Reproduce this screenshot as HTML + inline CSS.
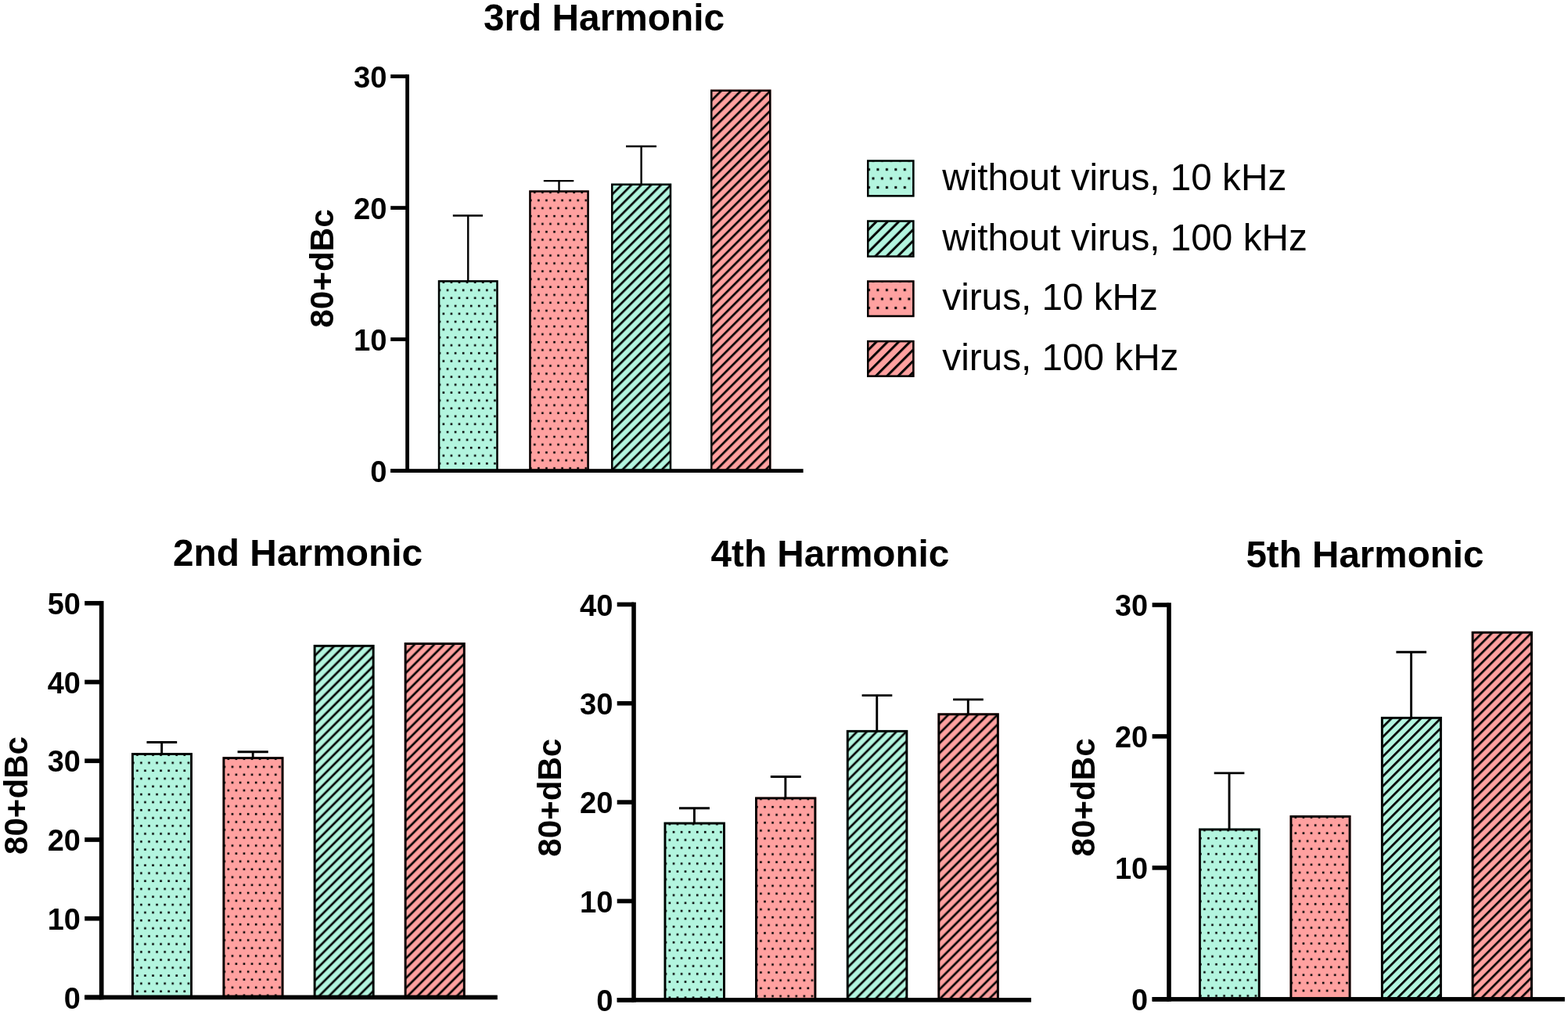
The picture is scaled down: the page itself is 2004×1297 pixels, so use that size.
<!DOCTYPE html>
<html><head><meta charset="utf-8"><title>Harmonics</title>
<style>html,body{margin:0;padding:0;background:#fff;}svg{display:block;}text{font-family:'Liberation Sans', Arial, Helvetica, sans-serif;fill:#000;}</style>
</head><body>
<svg width="2004" height="1297" viewBox="0 0 2004 1297">
<defs>
<pattern id="p1" patternUnits="userSpaceOnUse" x="559.80" y="358.10" width="10.07" height="20.14"><rect x="5.80" y="1.30" width="2.6" height="2.6"/><rect x="0.80" y="11.37" width="2.6" height="2.6"/></pattern>
<pattern id="p2" patternUnits="userSpaceOnUse" x="676.20" y="243.30" width="10.07" height="20.14"><rect x="5.80" y="1.30" width="2.6" height="2.6"/><rect x="0.80" y="11.37" width="2.6" height="2.6"/></pattern>
<pattern id="p3" patternUnits="userSpaceOnUse" width="8.8982" height="8.8982" patternTransform="rotate(-45)"><rect x="0" y="6.768" width="8.8982" height="2.7"/><rect x="0" y="-2.131" width="8.8982" height="2.7"/></pattern>
<pattern id="p4" patternUnits="userSpaceOnUse" width="8.8982" height="8.8982" patternTransform="rotate(-45)"><rect x="0" y="2.819" width="8.8982" height="2.7"/><rect x="0" y="-6.079" width="8.8982" height="2.7"/></pattern>
<pattern id="p5" patternUnits="userSpaceOnUse" x="168.30" y="962.10" width="10.07" height="20.14"><rect x="5.80" y="1.30" width="2.6" height="2.6"/><rect x="0.80" y="11.37" width="2.6" height="2.6"/></pattern>
<pattern id="p6" patternUnits="userSpaceOnUse" x="284.80" y="967.20" width="10.07" height="20.14"><rect x="5.80" y="1.30" width="2.6" height="2.6"/><rect x="0.80" y="11.37" width="2.6" height="2.6"/></pattern>
<pattern id="p7" patternUnits="userSpaceOnUse" width="8.8982" height="8.8982" patternTransform="rotate(-45)"><rect x="0" y="3.566" width="8.8982" height="2.7"/><rect x="0" y="-5.332" width="8.8982" height="2.7"/></pattern>
<pattern id="p8" patternUnits="userSpaceOnUse" width="8.8982" height="8.8982" patternTransform="rotate(-45)"><rect x="0" y="3.526" width="8.8982" height="2.7"/><rect x="0" y="-5.372" width="8.8982" height="2.7"/></pattern>
<pattern id="p9" patternUnits="userSpaceOnUse" x="848.80" y="1050.60" width="10.07" height="20.14"><rect x="5.80" y="1.30" width="2.6" height="2.6"/><rect x="0.80" y="11.37" width="2.6" height="2.6"/></pattern>
<pattern id="p10" patternUnits="userSpaceOnUse" x="965.30" y="1018.50" width="10.07" height="20.14"><rect x="5.80" y="1.30" width="2.6" height="2.6"/><rect x="0.80" y="11.37" width="2.6" height="2.6"/></pattern>
<pattern id="p11" patternUnits="userSpaceOnUse" width="8.8982" height="8.8982" patternTransform="rotate(-45)"><rect x="0" y="1.662" width="8.8982" height="2.7"/><rect x="0" y="-7.236" width="8.8982" height="2.7"/></pattern>
<pattern id="p12" patternUnits="userSpaceOnUse" width="8.8982" height="8.8982" patternTransform="rotate(-45)"><rect x="0" y="6.550" width="8.8982" height="2.7"/><rect x="0" y="-2.348" width="8.8982" height="2.7"/></pattern>
<pattern id="p13" patternUnits="userSpaceOnUse" x="1532.30" y="1058.50" width="10.07" height="20.14"><rect x="5.80" y="1.30" width="2.6" height="2.6"/><rect x="0.80" y="11.37" width="2.6" height="2.6"/></pattern>
<pattern id="p14" patternUnits="userSpaceOnUse" x="1648.80" y="1041.90" width="10.07" height="20.14"><rect x="5.80" y="1.30" width="2.6" height="2.6"/><rect x="0.80" y="11.37" width="2.6" height="2.6"/></pattern>
<pattern id="p15" patternUnits="userSpaceOnUse" width="8.8982" height="8.8982" patternTransform="rotate(-45)"><rect x="0" y="1.060" width="8.8982" height="2.7"/><rect x="0" y="-7.838" width="8.8982" height="2.7"/></pattern>
<pattern id="p16" patternUnits="userSpaceOnUse" width="8.8982" height="8.8982" patternTransform="rotate(-45)"><rect x="0" y="5.797" width="8.8982" height="2.7"/><rect x="0" y="-3.101" width="8.8982" height="2.7"/></pattern>
<pattern id="p17" patternUnits="userSpaceOnUse" x="1108.00" y="204.30" width="11.45" height="22.9"><rect x="1.00" y="10.80" width="3.0" height="3.0"/><rect x="6.50" y="-0.65" width="3.0" height="3.0"/><rect x="6.50" y="22.25" width="3.0" height="3.0"/></pattern>
<pattern id="p18" patternUnits="userSpaceOnUse" width="10.1116" height="10.1116" patternTransform="rotate(-45)"><rect x="0" y="9.955" width="10.1116" height="3.0"/><rect x="0" y="-0.156" width="10.1116" height="3.0"/></pattern>
<pattern id="p19" patternUnits="userSpaceOnUse" x="1108.00" y="358.30" width="11.45" height="22.9"><rect x="1.00" y="10.80" width="3.0" height="3.0"/><rect x="6.50" y="-0.65" width="3.0" height="3.0"/><rect x="6.50" y="22.25" width="3.0" height="3.0"/></pattern>
<pattern id="p20" patternUnits="userSpaceOnUse" width="10.1116" height="10.1116" patternTransform="rotate(-45)"><rect x="0" y="7.339" width="10.1116" height="3.0"/><rect x="0" y="-2.773" width="10.1116" height="3.0"/></pattern>
</defs>
<rect width="2004" height="1297" fill="#fff"/>
<rect x="559.80" y="358.10" width="76.90" height="243.50" fill="#b3f5df"/>
<rect x="561.67" y="359.98" width="73.15" height="241.62" fill="url(#p1)"/>
<rect x="561.05" y="359.35" width="74.40" height="242.25" fill="none" stroke="#000" stroke-width="2.5"/>
<rect x="676.20" y="243.30" width="76.60" height="358.30" fill="#ffa1a0"/>
<rect x="678.08" y="245.18" width="72.85" height="356.43" fill="url(#p2)"/>
<rect x="677.45" y="244.55" width="74.10" height="357.05" fill="none" stroke="#000" stroke-width="2.5"/>
<rect x="781.00" y="234.50" width="77.20" height="367.10" fill="#b3f5df"/>
<rect x="782.88" y="236.38" width="73.45" height="365.23" fill="url(#p3)"/>
<rect x="782.25" y="235.75" width="74.70" height="365.85" fill="none" stroke="#000" stroke-width="2.5"/>
<rect x="908.00" y="114.50" width="77.50" height="487.10" fill="#ffa1a0"/>
<rect x="909.88" y="116.38" width="73.75" height="485.23" fill="url(#p4)"/>
<rect x="909.25" y="115.75" width="75.00" height="485.85" fill="none" stroke="#000" stroke-width="2.5"/>
<line x1="598.25" y1="359.10" x2="598.25" y2="275.45" stroke="#000" stroke-width="2.4"/>
<line x1="578.80" y1="275.45" x2="617.00" y2="275.45" stroke="#000" stroke-width="2.4"/>
<line x1="714.50" y1="244.30" x2="714.50" y2="231.10" stroke="#000" stroke-width="2.4"/>
<line x1="694.80" y1="231.10" x2="733.30" y2="231.10" stroke="#000" stroke-width="2.4"/>
<line x1="819.60" y1="235.50" x2="819.60" y2="187.00" stroke="#000" stroke-width="2.4"/>
<line x1="800.00" y1="187.00" x2="839.00" y2="187.00" stroke="#000" stroke-width="2.4"/>
<rect x="518.20" y="95.20" width="4.8" height="508.80"/>
<rect x="499.20" y="599.20" width="527.40" height="4.8"/>
<rect x="499.20" y="599.20" width="21.40" height="4.8"/>
<text x="494.50" y="615.70" font-size="38.2" font-weight="bold" text-anchor="end">0</text>
<rect x="499.20" y="431.20" width="21.40" height="4.8"/>
<text x="494.50" y="447.70" font-size="38.2" font-weight="bold" text-anchor="end">10</text>
<rect x="499.20" y="263.20" width="21.40" height="4.8"/>
<text x="494.50" y="279.70" font-size="38.2" font-weight="bold" text-anchor="end">20</text>
<rect x="499.20" y="95.20" width="21.40" height="4.8"/>
<text x="494.50" y="111.70" font-size="38.2" font-weight="bold" text-anchor="end">30</text>
<text x="617.90" y="38.70" font-size="47.8" font-weight="bold" text-anchor="start">3rd Harmonic</text>
<text x="426.10" y="343.00" font-size="42.2" font-weight="bold" text-anchor="middle" transform="rotate(-90 426.10 343.00)">80+dBc</text>
<rect x="168.00" y="962.10" width="78.00" height="312.35" fill="#b3f5df"/>
<rect x="170.18" y="964.27" width="73.65" height="310.18" fill="url(#p5)"/>
<rect x="169.45" y="963.55" width="75.10" height="310.90" fill="none" stroke="#000" stroke-width="2.9"/>
<rect x="284.50" y="967.20" width="78.00" height="307.25" fill="#ffa1a0"/>
<rect x="286.68" y="969.38" width="73.65" height="305.07" fill="url(#p6)"/>
<rect x="285.95" y="968.65" width="75.10" height="305.80" fill="none" stroke="#000" stroke-width="2.9"/>
<rect x="400.70" y="823.90" width="77.90" height="450.55" fill="#b3f5df"/>
<rect x="402.88" y="826.07" width="73.55" height="448.38" fill="url(#p7)"/>
<rect x="402.15" y="825.35" width="75.00" height="449.10" fill="none" stroke="#000" stroke-width="2.9"/>
<rect x="516.70" y="821.10" width="78.00" height="453.35" fill="#ffa1a0"/>
<rect x="518.88" y="823.27" width="73.65" height="451.18" fill="url(#p8)"/>
<rect x="518.15" y="822.55" width="75.10" height="451.90" fill="none" stroke="#000" stroke-width="2.9"/>
<line x1="206.70" y1="963.10" x2="206.70" y2="948.50" stroke="#000" stroke-width="2.9"/>
<line x1="187.50" y1="948.50" x2="226.20" y2="948.50" stroke="#000" stroke-width="2.9"/>
<line x1="323.20" y1="968.20" x2="323.20" y2="960.80" stroke="#000" stroke-width="2.9"/>
<line x1="303.60" y1="960.80" x2="342.80" y2="960.80" stroke="#000" stroke-width="2.9"/>
<rect x="126.85" y="767.95" width="5.7" height="509.35"/>
<rect x="108.20" y="1271.60" width="527.60" height="5.7"/>
<rect x="108.20" y="1271.60" width="21.50" height="5.7"/>
<text x="102.90" y="1288.55" font-size="37.9" font-weight="bold" text-anchor="end">0</text>
<rect x="108.20" y="1170.87" width="21.50" height="5.7"/>
<text x="102.90" y="1187.82" font-size="37.9" font-weight="bold" text-anchor="end">10</text>
<rect x="108.20" y="1070.14" width="21.50" height="5.7"/>
<text x="102.90" y="1087.09" font-size="37.9" font-weight="bold" text-anchor="end">20</text>
<rect x="108.20" y="969.41" width="21.50" height="5.7"/>
<text x="102.90" y="986.36" font-size="37.9" font-weight="bold" text-anchor="end">30</text>
<rect x="108.20" y="868.68" width="21.50" height="5.7"/>
<text x="102.90" y="885.63" font-size="37.9" font-weight="bold" text-anchor="end">40</text>
<rect x="108.20" y="767.95" width="21.50" height="5.7"/>
<text x="102.90" y="784.90" font-size="37.9" font-weight="bold" text-anchor="end">50</text>
<text x="220.90" y="723.00" font-size="47.9" font-weight="bold" text-anchor="start">2nd Harmonic</text>
<text x="34.70" y="1016.50" font-size="42.1" font-weight="bold" text-anchor="middle" transform="rotate(-90 34.70 1016.50)">80+dBc</text>
<rect x="848.50" y="1050.60" width="78.40" height="227.20" fill="#b3f5df"/>
<rect x="850.67" y="1052.77" width="74.05" height="225.03" fill="url(#p9)"/>
<rect x="849.95" y="1052.05" width="75.50" height="225.75" fill="none" stroke="#000" stroke-width="2.9"/>
<rect x="965.00" y="1018.50" width="78.30" height="259.30" fill="#ffa1a0"/>
<rect x="967.17" y="1020.67" width="73.95" height="257.12" fill="url(#p10)"/>
<rect x="966.45" y="1019.95" width="75.40" height="257.85" fill="none" stroke="#000" stroke-width="2.9"/>
<rect x="1081.80" y="932.90" width="78.50" height="344.90" fill="#b3f5df"/>
<rect x="1083.97" y="935.07" width="74.15" height="342.72" fill="url(#p11)"/>
<rect x="1083.25" y="934.35" width="75.60" height="343.45" fill="none" stroke="#000" stroke-width="2.9"/>
<rect x="1198.40" y="911.30" width="78.40" height="366.50" fill="#ffa1a0"/>
<rect x="1200.58" y="913.47" width="74.05" height="364.32" fill="url(#p12)"/>
<rect x="1199.85" y="912.75" width="75.50" height="365.05" fill="none" stroke="#000" stroke-width="2.9"/>
<line x1="887.40" y1="1051.60" x2="887.40" y2="1032.80" stroke="#000" stroke-width="2.9"/>
<line x1="868.00" y1="1032.80" x2="906.90" y2="1032.80" stroke="#000" stroke-width="2.9"/>
<line x1="1003.85" y1="1019.50" x2="1003.85" y2="992.50" stroke="#000" stroke-width="2.9"/>
<line x1="984.80" y1="992.50" x2="1023.70" y2="992.50" stroke="#000" stroke-width="2.9"/>
<line x1="1120.75" y1="933.90" x2="1120.75" y2="888.60" stroke="#000" stroke-width="2.9"/>
<line x1="1101.60" y1="888.60" x2="1140.30" y2="888.60" stroke="#000" stroke-width="2.9"/>
<line x1="1237.30" y1="912.30" x2="1237.30" y2="893.90" stroke="#000" stroke-width="2.9"/>
<line x1="1218.10" y1="893.90" x2="1256.80" y2="893.90" stroke="#000" stroke-width="2.9"/>
<rect x="807.20" y="769.60" width="5.6" height="511.00"/>
<rect x="788.70" y="1275.00" width="529.20" height="5.6"/>
<rect x="788.70" y="1275.00" width="21.30" height="5.6"/>
<text x="783.40" y="1291.90" font-size="38.2" font-weight="bold" text-anchor="end">0</text>
<rect x="788.70" y="1148.65" width="21.30" height="5.6"/>
<text x="783.40" y="1165.55" font-size="38.2" font-weight="bold" text-anchor="end">10</text>
<rect x="788.70" y="1022.30" width="21.30" height="5.6"/>
<text x="783.40" y="1039.20" font-size="38.2" font-weight="bold" text-anchor="end">20</text>
<rect x="788.70" y="895.95" width="21.30" height="5.6"/>
<text x="783.40" y="912.85" font-size="38.2" font-weight="bold" text-anchor="end">30</text>
<rect x="788.70" y="769.60" width="21.30" height="5.6"/>
<text x="783.40" y="786.50" font-size="38.2" font-weight="bold" text-anchor="end">40</text>
<text x="908.60" y="723.90" font-size="47.7" font-weight="bold" text-anchor="start">4th Harmonic</text>
<text x="716.80" y="1019.20" font-size="42.1" font-weight="bold" text-anchor="middle" transform="rotate(-90 716.80 1019.20)">80+dBc</text>
<rect x="1532.00" y="1058.50" width="78.70" height="218.35" fill="#b3f5df"/>
<rect x="1534.17" y="1060.67" width="74.35" height="216.17" fill="url(#p13)"/>
<rect x="1533.45" y="1059.95" width="75.80" height="216.90" fill="none" stroke="#000" stroke-width="2.9"/>
<rect x="1648.50" y="1041.90" width="78.00" height="234.95" fill="#ffa1a0"/>
<rect x="1650.67" y="1044.08" width="73.65" height="232.77" fill="url(#p14)"/>
<rect x="1649.95" y="1043.35" width="75.10" height="233.50" fill="none" stroke="#000" stroke-width="2.9"/>
<rect x="1764.90" y="915.90" width="78.00" height="360.95" fill="#b3f5df"/>
<rect x="1767.08" y="918.07" width="73.65" height="358.77" fill="url(#p15)"/>
<rect x="1766.35" y="917.35" width="75.10" height="359.50" fill="none" stroke="#000" stroke-width="2.9"/>
<rect x="1880.70" y="806.80" width="78.20" height="470.05" fill="#ffa1a0"/>
<rect x="1882.88" y="808.97" width="73.85" height="467.87" fill="url(#p16)"/>
<rect x="1882.15" y="808.25" width="75.30" height="468.60" fill="none" stroke="#000" stroke-width="2.9"/>
<line x1="1571.05" y1="1059.50" x2="1571.05" y2="987.90" stroke="#000" stroke-width="2.9"/>
<line x1="1551.70" y1="987.90" x2="1590.40" y2="987.90" stroke="#000" stroke-width="2.9"/>
<line x1="1803.60" y1="916.90" x2="1803.60" y2="833.30" stroke="#000" stroke-width="2.9"/>
<line x1="1784.40" y1="833.30" x2="1823.10" y2="833.30" stroke="#000" stroke-width="2.9"/>
<rect x="1491.20" y="770.20" width="5.6" height="509.45"/>
<rect x="1472.60" y="1274.05" width="527.30" height="5.6"/>
<rect x="1472.60" y="1274.05" width="21.40" height="5.6"/>
<text x="1467.20" y="1290.95" font-size="37.9" font-weight="bold" text-anchor="end">0</text>
<rect x="1472.60" y="1106.10" width="21.40" height="5.6"/>
<text x="1467.20" y="1123.00" font-size="37.9" font-weight="bold" text-anchor="end">10</text>
<rect x="1472.60" y="938.15" width="21.40" height="5.6"/>
<text x="1467.20" y="955.05" font-size="37.9" font-weight="bold" text-anchor="end">20</text>
<rect x="1472.60" y="770.20" width="21.40" height="5.6"/>
<text x="1467.20" y="787.10" font-size="37.9" font-weight="bold" text-anchor="end">30</text>
<text x="1592.40" y="725.10" font-size="47.6" font-weight="bold" text-anchor="start">5th Harmonic</text>
<text x="1399.10" y="1018.90" font-size="42.1" font-weight="bold" text-anchor="middle" transform="rotate(-90 1399.10 1018.90)">80+dBc</text>
<rect x="1108.0" y="204.3" width="60.60" height="47.30" fill="#b3f5df"/>
<rect x="1110.0" y="206.3" width="56.60" height="43.30" fill="url(#p17)"/>
<rect x="1109.25" y="205.55" width="58.10" height="44.80" fill="none" stroke="#000" stroke-width="2.5"/>
<text x="1204.30" y="242.55" font-size="47.7" font-weight="normal" text-anchor="start">without virus, 10 kHz</text>
<rect x="1108.0" y="281.3" width="60.60" height="47.60" fill="#b3f5df"/>
<rect x="1110.0" y="283.3" width="56.60" height="43.60" fill="url(#p18)"/>
<rect x="1109.25" y="282.55" width="58.10" height="45.10" fill="none" stroke="#000" stroke-width="2.5"/>
<text x="1204.30" y="319.70" font-size="47.7" font-weight="normal" text-anchor="start">without virus, 100 kHz</text>
<rect x="1108.0" y="358.3" width="60.60" height="46.90" fill="#ffa1a0"/>
<rect x="1110.0" y="360.3" width="56.60" height="42.90" fill="url(#p19)"/>
<rect x="1109.25" y="359.55" width="58.10" height="44.40" fill="none" stroke="#000" stroke-width="2.5"/>
<text x="1204.30" y="396.35" font-size="47.7" font-weight="normal" text-anchor="start">virus, 10 kHz</text>
<rect x="1108.0" y="434.9" width="60.60" height="47.00" fill="#ffa1a0"/>
<rect x="1110.0" y="436.9" width="56.60" height="43.00" fill="url(#p20)"/>
<rect x="1109.25" y="436.15" width="58.10" height="44.50" fill="none" stroke="#000" stroke-width="2.5"/>
<text x="1204.30" y="473.00" font-size="47.7" font-weight="normal" text-anchor="start">virus, 100 kHz</text>
</svg>
</body></html>
